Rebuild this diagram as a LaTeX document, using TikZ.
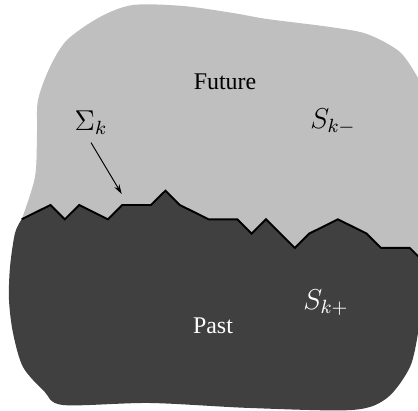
\documentclass[tikz,border=0pt]{standalone}
\usepackage{fontspec}
\setmainfont{Liberation Serif}
\usetikzlibrary{arrows.meta}

\begin{document}
\begin{tikzpicture}[
  x=0.0147cm, y=-0.0147cm,
  future/.style={fill=gray!50},
  past/.style={fill=black!75},
  front/.style={draw=black, line width=0.8pt, line join=miter},
  lbl/.style={font=\large, inner sep=3pt},
  pointer/.style={-{Stealth[length=4pt,width=2.4pt]}, line width=0.4pt}
]
\useasboundingbox (0,0) rectangle (418,411);

% corners of the front, on a grid
\begin{scope}[shift={(21.7,219.3)}, x=0.2112cm, y=0.2102cm]
  \foreach \u/\v [count=\i] in {0/0, 2/1, 3/0, 4/1, 6/0, 7/1, 9/1, 10/2, 11/1, 13/0,
      15/0, 16/-1, 17/0, 19/-2, 20/-1, 22/0, 24/-1, 25/-2, 27/-2, 27.58/-2.58}
    \coordinate (z\i) at (\u,\v);
\end{scope}

% future side
\fill[future] plot[smooth] coordinates {(21.7,219.3) (35,177) (37,133) (38,100) (50,67)
    (67,40) (100,17) (133,5) (183,6) (233,13) (267,19) (330,27) (367,34) (400,52) (418,78)}
  -- (z20) \foreach \i in {19,18,...,1} {-- (z\i)} -- cycle;

% past side
\fill[past] (z1) \foreach \i in {2,...,20} {-- (z\i)}
  -- plot[smooth] coordinates {(418,333) (410,367) (387,398) (352,410) (250,408) (150,403)
    (63,405) (44,391) (23,367) (13,333) (9,300) (10,267) (15,233) (21.7,219.3)} -- cycle;

\draw[front] (z1) \foreach \i in {2,...,20} {-- (z\i)};

\node (future) at (225,82) {Future};
\node[text=white] (past) at (213,326) {Past};
\node[lbl] (sigma) at (91,123) {$\Sigma_k$};
\node[lbl] (sminus) at (333,122) {$S_{k-}$};
\node[lbl, text=white] (splus) at (326,303) {$S_{k+}$};

\coordinate (tip) at (121.7,194);
\draw[pointer] (sigma.south) -- (tip);
\end{tikzpicture}
\end{document}
